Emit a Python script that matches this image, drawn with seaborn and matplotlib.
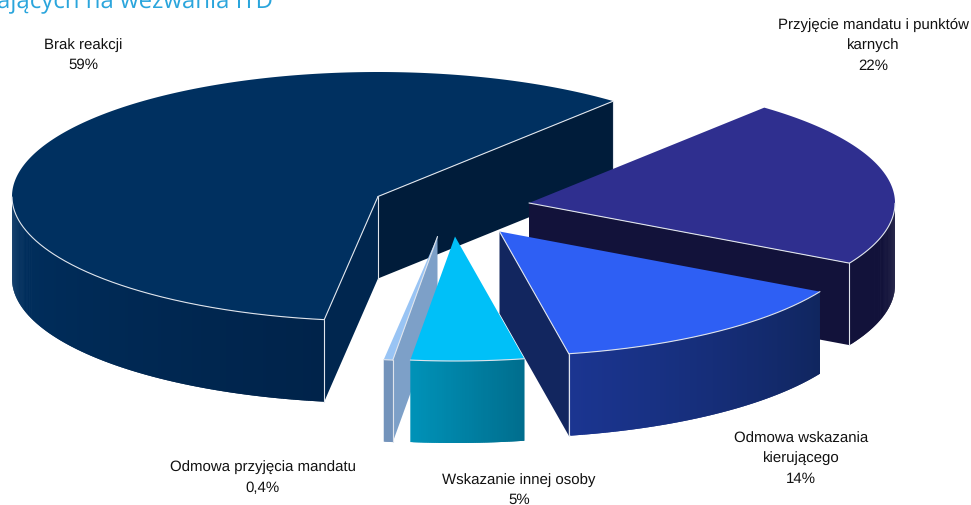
import numpy as np
import matplotlib
matplotlib.use("Agg")
import matplotlib.pyplot as plt
from matplotlib.collections import PolyCollection
from matplotlib.patches import Polygon
import seaborn as sns

# Shares of each reaction, in percent
categories = [
    "Brak reakcji",
    "Przyjęcie mandatu i punktów\nkarnych",
    "Odmowa wskazania\nkierującego",
    "Wskazanie innej osoby",
    "Odmowa przyjęcia mandatu",
]
shares = [59, 22, 14, 5, 0.4]
share_labels = ["59%", "22%", "14%", "5%", "0,4%"]
title_text = "ających na wezwania ITD"

# Styling per slice: top face, rim gradient (left to right), both radial cut faces
top_colors = ["#003060", "#2f2f8f", "#2e5ff4", "#00c0f8", "#99c4f4"]
rim_colors = [("#003060", "#00234a"), ("#12123a", "#12123a"),
              ("#1b3591", "#10265f"), ("#0092b8", "#006e8e"),
              ("#7393bb", "#7393bb")]
lower_cut_colors = ["#001c3a", "#12123a", "#12265f", "#007090", "#7da0c8"]
upper_cut_colors = ["#00264f", "#12123a", "#12265f", "#007090", "#7da0c8"]
edge_color = "#dfe4ec"

# Pie layout in figure pixels
RX, RY, DEPTH = 366, 124.5, 82
START_ANGLE = 50.0
# Apex of each exploded slice
apexes = [(378, 197.5), (529, 204), (499.5, 232.5), (455, 237.5), (437.5, 237.5)]
# Slices are painted back to front
paint_order = [0, 1, 2, 4, 3]
label_anchors = [(83, 55), (873, 45), (801, 459), (519, 490), (263, 478)]

sns.set_theme(style="white")
plt.rcParams["font.family"] = ["Liberation Sans", "DejaVu Sans"]
plt.rcParams["text.hinting"] = "no_hinting"
plt.rcParams["text.hinting_factor"] = 1

fig, ax = plt.subplots(figsize=(9.71, 5.06), dpi=100)
ax.set_position([0, 0, 1, 1])
ax.set_xlim(0, 971)
ax.set_ylim(506, 0)
ax.axis("off")

# Slices run clockwise from the start angle; the largest one wraps round the left
sweeps = 360 * np.array(shares) / np.sum(shares)
spans = [(START_ANGLE, START_ANGLE + sweeps[0])]
cursor = START_ANGLE
for sweep in sweeps[1:]:
    spans.append((cursor - sweep, cursor))
    cursor -= sweep


def rim_point(apex, angle):
    t = np.radians(angle)
    return apex[0] + RX * np.cos(t), apex[1] - RY * np.sin(t)


def stroke(xs, ys, z):
    ax.plot(xs, ys, color=edge_color, lw=0.8, solid_capstyle="round", zorder=z)


def draw_slice(layer, i):
    apex = apexes[i]
    lo, hi = spans[i]
    base = 10 + 5 * layer
    ts = np.linspace(lo, hi, max(int(hi - lo) * 3, 12))
    arc = np.column_stack(rim_point(apex, ts))
    front_mask = np.sin(np.radians(ts)) <= 0

    # Radial cut faces that turn toward the viewer
    lower_visible = np.cos(np.radians(lo)) > 0
    upper_visible = np.cos(np.radians(hi)) < 0
    visible = [(lo, lower_visible, lower_cut_colors[i]), (hi, upper_visible, upper_cut_colors[i])]
    for angle, facing, color in visible:
        if facing:
            x, y = rim_point(apex, angle)
            corners = [apex, (x, y), (x, y + DEPTH), (apex[0], apex[1] + DEPTH)]
            ax.add_patch(Polygon(corners, closed=True, fc=color, ec="none", zorder=base))

    # Front part of the rim, shaded left to right in overlapping bands
    if front_mask.sum() > 1:
        front_ts = ts[front_mask]
        xs, ys = rim_point(apex, front_ts)
        order = np.argsort(xs)
        xs, ys = xs[order], ys[order]
        ramp = sns.blend_palette(rim_colors[i], n_colors=len(xs) - 1)
        quads = []
        for k in range(len(xs) - 1):
            stop = min(k + 3, len(xs))
            top = list(zip(xs[k:stop], ys[k:stop]))
            bottom = list(zip(xs[k:stop][::-1], ys[k:stop][::-1] + DEPTH))
            quads.append(top + bottom)
        ax.add_collection(PolyCollection(quads, facecolors=ramp, edgecolors="none",
                                         linewidths=0, zorder=base + 1))
        stroke(arc[front_mask, 0], arc[front_mask, 1], base + 3)

    # Flat top of the slice
    outline = np.vstack([apex, arc])
    ax.add_patch(Polygon(outline, closed=True, fc=top_colors[i], ec="none", zorder=base + 2))

    # Thin pale edges where a side face meets the top
    for angle, facing, _ in visible:
        if facing:
            x, y = rim_point(apex, angle)
            stroke([apex[0], x], [apex[1], y], base + 3)
            stroke([x, x], [y, y + DEPTH], base + 3)
    if lower_visible and upper_visible:
        stroke([apex[0], apex[0]], [apex[1], apex[1] + DEPTH], base + 3)


for layer, i in enumerate(paint_order):
    draw_slice(layer, i)

for name, pct, (x, y) in zip(categories, share_labels, label_anchors):
    ax.text(x, y, f"{name}\n{pct}", ha="center", va="center", fontsize=11.1,
            color="#111111", linespacing=1.6, zorder=60)

ax.text(-3, 8, title_text, ha="left", va="baseline", fontsize=17,
        family=["Open Sans", "DejaVu Sans"], color="#2aa5dc", zorder=60)

fig.savefig("out.png", dpi=100, facecolor="white")
